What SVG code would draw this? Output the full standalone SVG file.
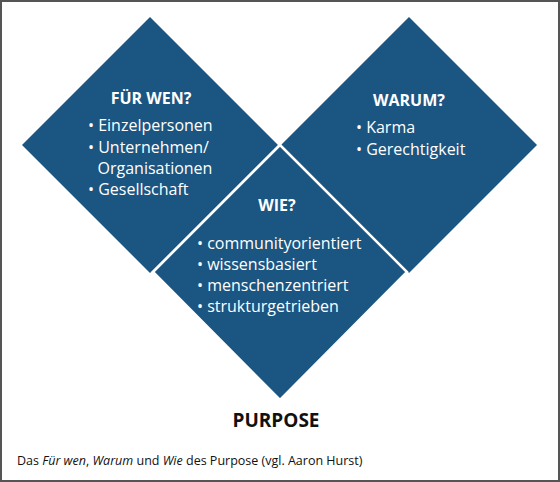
<svg xmlns="http://www.w3.org/2000/svg" width="560" height="482" viewBox="0 0 560 482">
<style>
.d{fill:#1b5581;}
.w{fill:#1b5581;stroke:#fff;stroke-width:2.5;stroke-linejoin:miter;}
text{font-family:"Open Sans","Noto Sans",sans-serif;}
.h{font-weight:bold;font-size:16px;fill:#fff;text-anchor:middle;}
.t{font-size:16px;fill:#fff;}
.p{font-weight:bold;font-size:19px;fill:#111;text-anchor:middle;}
.c{font-size:12.5px;fill:#111;}
</style>
<rect x="1" y="1" width="558" height="480" fill="#fff" stroke="#555" stroke-width="2"/>
<g id="fuer-wen">
<polygon class="d" points="150,17 278,145 150,273 22,145"/>
<text class="h" x="151" y="104">FÜR WEN?</text>
<text class="t" x="88" y="131">• Einzelpersonen</text>
<text class="t" x="88" y="153">• Unternehmen/</text>
<text class="t" x="97.5" y="174">Organisationen</text>
<text class="t" x="88" y="195">• Gesellschaft</text>
</g>
<g id="warum">
<polygon class="d" points="409,17 537,145 409,273 281,145"/>
<text class="h" x="409" y="106">WARUM?</text>
<text class="t" x="356" y="133">• Karma</text>
<text class="t" x="356" y="155">• Gerechtigkeit</text>
</g>
<g id="wie">
<polygon class="w" points="280,145 407,272 280,400 153,272"/>
<text class="h" x="277" y="211">WIE?</text>
<text class="t" x="197" y="249">• communityorientiert</text>
<text class="t" x="197" y="270">• wissensbasiert</text>
<text class="t" x="197" y="291">• menschenzentriert</text>
<text class="t" x="197" y="312">• strukturgetrieben</text>
</g>
<g id="connectors"></g>
<text class="p" x="276" y="427">PURPOSE</text>
<text class="c" x="17" y="465">Das <tspan font-style="italic">Für wen</tspan>, <tspan font-style="italic">Warum</tspan> und <tspan font-style="italic">Wie</tspan> des Purpose (vgl. Aaron Hurst)</text>
</svg>
